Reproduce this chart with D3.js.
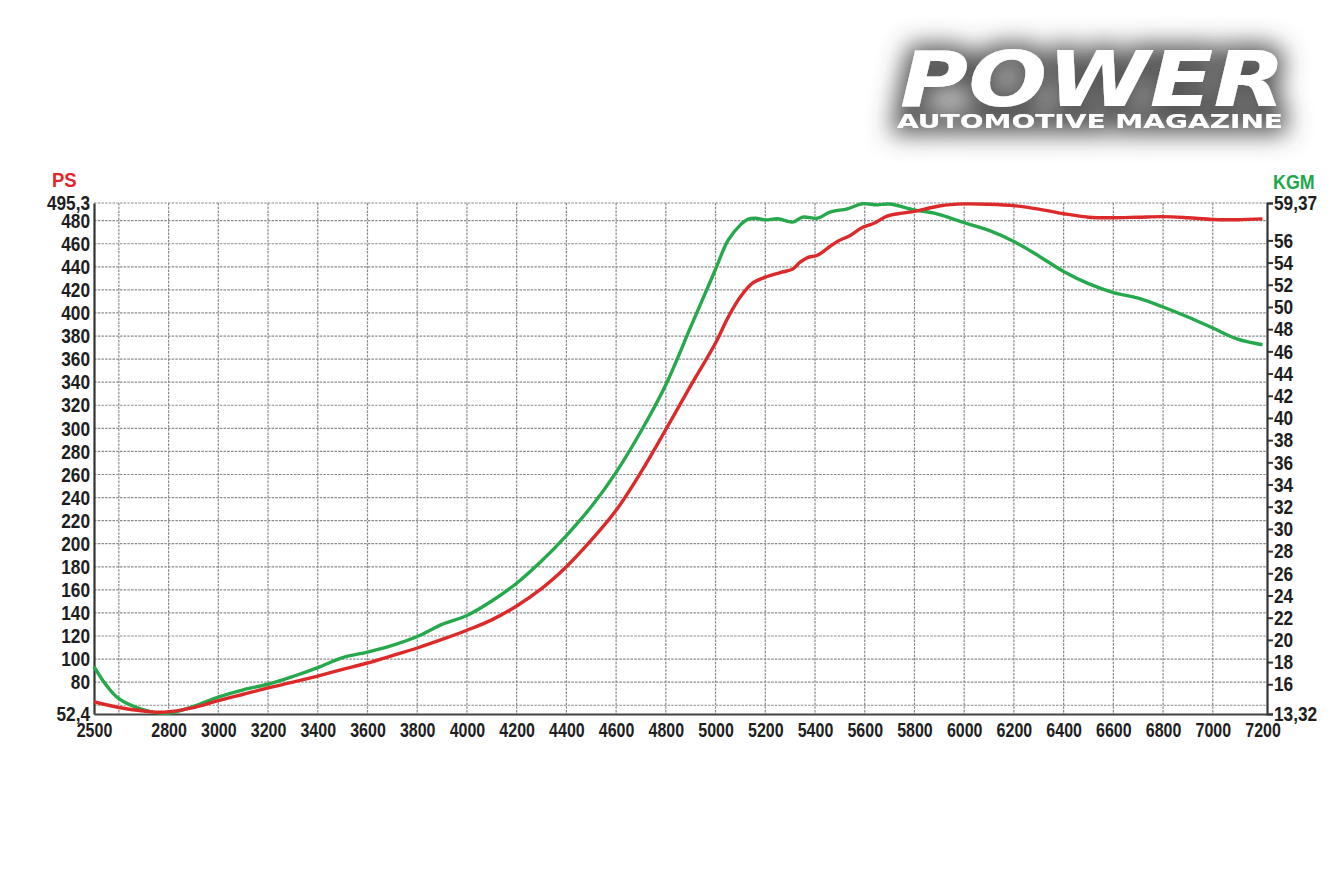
<!DOCTYPE html>
<html><head><meta charset="utf-8">
<script src="https://cdn.jsdelivr.net/npm/d3@7"></script>
<style>
body{margin:0;background:#fff;}
svg text{font-family:"Liberation Sans",Arial,sans-serif;font-weight:bold;}
</style></head><body>
<svg id="c" width="1340" height="892"></svg>
<script>
// ---- data ----
const psRpm = [2500,2600,2700,2780,2900,3000,3100,3200,3300,3400,3500,3600,3700,3800,3900,4000,4100,4200,4300,4400,4500,4600,4700,4800,4900,5000,5050,5100,5150,5200,5260,5310,5340,5370,5410,5450,5490,5540,5590,5640,5690,5750,5800,5900,6000,6100,6200,6300,6400,6500,6600,6700,6800,6900,7000,7100,7200];
const psVal = [63,58,55,54,58,64,69.5,75,80,85.3,91,96.6,103,109.6,117,125,134,146,161,180,203,229,262,299,337,374,396,414,426,431,435,438,444,448,450,456,462,467,474,478,484,486.5,488,492.7,494.5,494.2,493,490,486,483,482.5,483,483.5,482.5,481,480.8,481.5];
const kgmRpm = [2500,2550,2600,2700,2800,2900,3000,3100,3200,3300,3400,3500,3600,3700,3800,3900,4000,4100,4200,4300,4400,4500,4600,4700,4800,4900,4950,5000,5050,5100,5130,5160,5200,5250,5310,5350,5410,5460,5530,5590,5650,5700,5800,5880,6000,6100,6200,6300,6400,6500,6600,6700,6800,6900,7000,7100,7200];
const kgmVal = [17.6,15.9,14.7,13.7,13.4,14.0,14.85,15.5,16.0,16.7,17.5,18.4,18.9,19.5,20.3,21.4,22.2,23.5,25.1,27.1,29.4,32.0,35.1,38.8,43.0,48.2,50.8,53.4,56.0,57.4,57.9,58.0,57.85,57.95,57.65,58.1,58.0,58.55,58.85,59.3,59.2,59.28,58.75,58.45,57.6,56.9,55.9,54.6,53.2,52.1,51.3,50.8,50.0,49.1,48.1,47.1,46.6];
const xTicks = [2500,2800,3000,3200,3400,3600,3800,4000,4200,4400,4600,4800,5000,5200,5400,5600,5800,6000,6200,6400,6600,6800,7000,7200];
const xGrid = [2600,2800,3000,3200,3400,3600,3800,4000,4200,4400,4600,4800,5000,5200,5400,5600,5800,6000,6200,6400,6600,6800,7000];
const psTicks = [52.4,80,100,120,140,160,180,200,220,240,260,280,300,320,340,360,380,400,420,440,460,480,495.3];
const psGrid = [60,80,100,120,140,160,180,200,220,240,260,280,300,320,340,360,380,400,420,440,460,480,495.3];
const kgmTicks = [13.32,16,18,20,22,24,26,28,30,32,34,36,38,40,42,44,46,48,50,52,54,56,59.37];

// ---- layout ----
const svg = d3.select("#c");
const L = 94, R = 1267, T = 203, B = 714;
const x = d3.scaleLinear().domain([2500, 7218]).range([L, R]);
const yPs = d3.scaleLinear().domain([52.4, 495.3]).range([B, T]);
const yKg = d3.scaleLinear().domain([13.32, 59.37]).range([B, T]);
const fmt = v => String(v).replace(".", ",");
const condense = (sel, k) => sel.each(function () {
  const w = this.getComputedTextLength();
  d3.select(this).attr("textLength", w * k).attr("lengthAdjust", "spacingAndGlyphs");
});

// grid
const g = svg.append("g");
g.selectAll("line.h").data(psGrid).join("line")
  .attr("x1", L).attr("x2", R).attr("y1", d => yPs(d)).attr("y2", d => yPs(d))
  .attr("stroke", "#8a8a8a").attr("stroke-width", 1.2).attr("stroke-dasharray", "2.5,1.2");
g.selectAll("line.v").data(xGrid).join("line")
  .attr("x1", d => x(d)).attr("x2", d => x(d)).attr("y1", T).attr("y2", B)
  .attr("stroke", "#8a8a8a").attr("stroke-width", 1.2).attr("stroke-dasharray", "2.5,1.2");

// axes
const axL = svg.append("g").attr("transform", `translate(${L},0)`)
  .call(d3.axisLeft(yPs).tickValues(psTicks).tickSize(0).tickPadding(4).tickFormat(fmt));
const axR = svg.append("g").attr("transform", `translate(${R},0)`)
  .call(d3.axisRight(yKg).tickValues(kgmTicks).tickSize(6).tickPadding(1).tickFormat(fmt));
const axB = svg.append("g").attr("transform", `translate(0,${B})`)
  .call(d3.axisBottom(x).tickValues(xTicks).tickSize(0).tickPadding(9).tickFormat(d3.format("d")));
[axL, axR, axB].forEach(a => {
  a.select(".domain").attr("stroke", "#333").attr("stroke-width", 2.2);
  a.selectAll(".tick line").attr("stroke", "#333").attr("stroke-width", 2);
  a.selectAll("text").attr("fill", "#1e1e1e").attr("font-size", 21);
});
axB.select(".domain").attr("stroke", "#444");
axB.selectAll("text").attr("font-size", 20);
condense(axL.selectAll("text"), 0.82);
condense(axR.selectAll("text"), 0.82);
condense(axB.selectAll("text"), 0.8);

// curves
const lineGen = (xs, ys, yS) => d3.line().x((d, i) => x(xs[i])).y((d, i) => yS(ys[i])).curve(d3.curveCatmullRom.alpha(0.5))(xs);
svg.append("path").attr("d", lineGen(kgmRpm, kgmVal, yKg)).attr("fill", "none")
  .attr("stroke", "#26a84c").attr("stroke-width", 3.4).attr("stroke-linejoin", "round");
svg.append("path").attr("d", lineGen(psRpm, psVal, yPs)).attr("fill", "none")
  .attr("stroke", "#dc2a2a").attr("stroke-width", 3.4).attr("stroke-linejoin", "round");

// axis titles
condense(svg.append("text").attr("x", 52).attr("y", 187).attr("fill", "#e0262b").attr("font-size", 21).text("PS"), 0.88);
condense(svg.append("text").attr("x", 1273).attr("y", 189).attr("fill", "#22a84b").attr("font-size", 21).text("KGM"), 0.85);

// logo
const defs = svg.append("defs");
const f = defs.append("filter").attr("id", "halo").attr("x", "-20%").attr("y", "-70%").attr("width", "140%").attr("height", "240%");
f.append("feMorphology").attr("in", "SourceAlpha").attr("operator", "dilate").attr("radius", 6).attr("result", "d");
f.append("feGaussianBlur").attr("in", "d").attr("stdDeviation", 12).attr("result", "b");
f.append("feFlood").attr("flood-color", "#444").attr("flood-opacity", 0.9);
f.append("feComposite").attr("in2", "b").attr("operator", "in").attr("result", "s");
f.append("feMerge").call(m => { m.append("feMergeNode").attr("in", "s"); m.append("feMergeNode").attr("in", "SourceGraphic"); });
const logo = svg.append("g").attr("filter", "url(#halo)");
logo.append("text").attr("x", 900).attr("y", 106).attr("textLength", 385).attr("lengthAdjust", "spacingAndGlyphs")
  .attr("font-size", 76).attr("fill", "#fff").attr("font-style", "italic")
  .style("font-family", "'DejaVu Sans',sans-serif").style("font-weight", "bold").text("POWER");
logo.append("text").attr("x", 897).attr("y", 128).attr("textLength", 386).attr("lengthAdjust", "spacingAndGlyphs")
  .attr("font-size", 20).attr("fill", "#fff")
  .style("font-family", "'DejaVu Sans',sans-serif").style("font-weight", "bold").text("AUTOMOTIVE MAGAZINE");
</script>
</body></html>
